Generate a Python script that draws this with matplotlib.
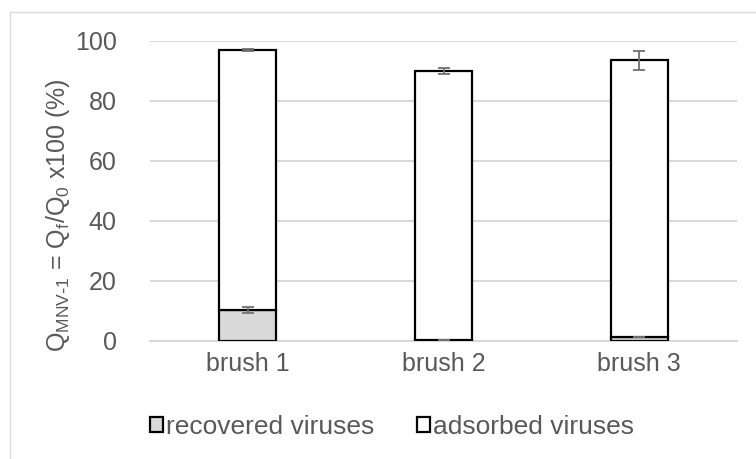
import matplotlib
matplotlib.use("Agg")
import matplotlib.pyplot as plt
from matplotlib.patches import Rectangle
import numpy as np

categories = ["brush 1", "brush 2", "brush 3"]
recovered = [10.4, 0.3, 1.2]
recovered_err = [1.0, 0.0, 0.0]
adsorbed = [86.6, 89.6, 92.4]
adsorbed_err = [0.2, 1.0, 3.2]

plt.rcParams['font.family'] = ['Liberation Sans', 'DejaVu Sans']
txt = '#595959'
fs = 18

fig = plt.figure(figsize=(7.56, 4.59), dpi=100)
fig.patches.append(Rectangle((10/756, -0.1), 1.1, 1 - 12/459 + 0.1, transform=fig.transFigure,
                             fill=False, edgecolor='#d9d9d9', linewidth=1.0, zorder=0))
ax = fig.add_axes([150/756, 1 - 341/459, (737 - 150)/756, 300/459])

x = np.arange(len(categories))
w = 0.29
ax.bar(x, recovered, w, color='#d9d9d9', edgecolor='black', linewidth=1.6,
       label='recovered viruses', zorder=3)
ax.bar(x, adsorbed, w, bottom=recovered, color='white', edgecolor='black', linewidth=1.6,
       label='adsorbed viruses', zorder=3)
tops = np.array(recovered) + np.array(adsorbed)
ax.errorbar(x, recovered, yerr=recovered_err, fmt='none', ecolor='#707070', elinewidth=1.3,
            capsize=4, capthick=1.3, zorder=4)
ax.errorbar(x, tops, yerr=adsorbed_err, fmt='none', ecolor='#707070', elinewidth=1.3,
            capsize=4, capthick=1.3, zorder=4, clip_on=False)

ax.set_xlim(-0.5, 2.5)
ax.set_ylim(0, 100)
ax.set_yticks([0, 20, 40, 60, 80, 100])
ax.set_xticks(x)
ax.set_xticklabels(categories)
ax.tick_params(axis='both', length=0, labelsize=fs, colors=txt)
ax.tick_params(axis='y', pad=24)
ax.tick_params(axis='x', pad=8)
ax.yaxis.grid(True, color='#d9d9d9', linewidth=1.5, zorder=0)
ax.set_axisbelow(True)
for s in ['top', 'right', 'left']:
    ax.spines[s].set_visible(False)
ax.spines['bottom'].set_color('#d9d9d9')
ax.spines['bottom'].set_linewidth(1.5)

ax.set_ylabel(r'Q$_{\mathregular{MNV\text{-}1}}$ = Q$_{\mathregular{f}}$/Q$_{\mathregular{0}}$ x100 (%)',
              fontsize=fs, color=txt)
ax.yaxis.set_label_coords(-0.133, 0.42)

leg = fig.legend(*ax.get_legend_handles_labels(), loc='center', bbox_to_anchor=(392/756, 1 - 427/459),
                 ncol=2, frameon=False, fontsize=19, handlelength=0.5, handleheight=0.5,
                 handletextpad=0.12, columnspacing=1.6, labelcolor=txt, borderpad=0)

fig.savefig('out.png', dpi=100)
